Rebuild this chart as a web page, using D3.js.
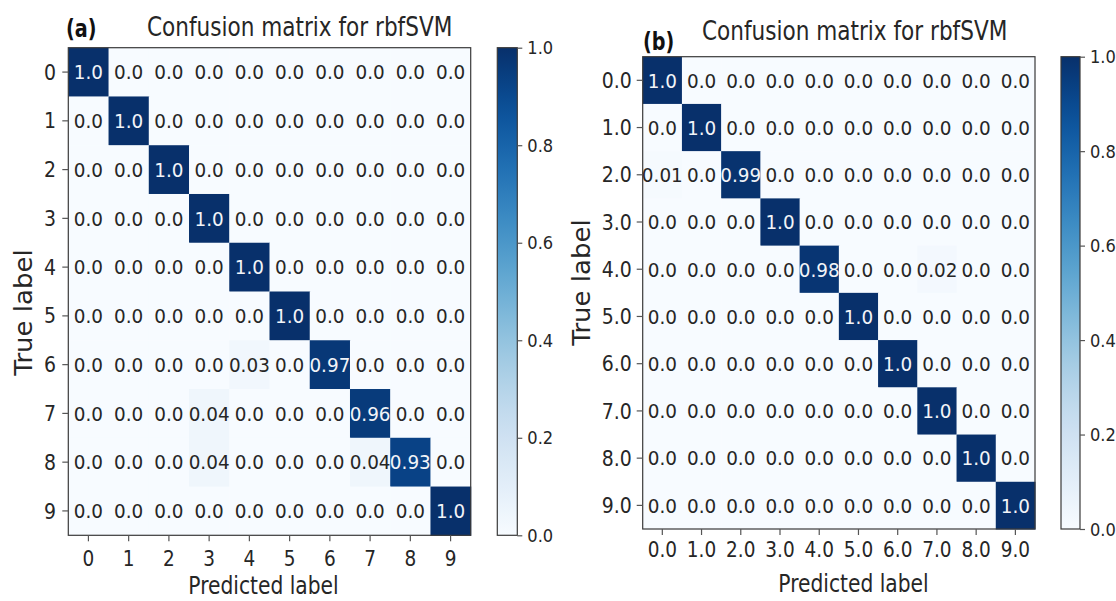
<!DOCTYPE html>
<html>
<head>
<meta charset="utf-8">
<script src="https://cdn.jsdelivr.net/npm/d3@7"></script>
<style>
  html, body { margin: 0; padding: 0; background: #ffffff; }
  svg { display: block; }
  text { font-family: "DejaVu Sans", sans-serif; }
</style>
</head>
<body>
<svg id="chart" width="1116" height="601"></svg>
<script>
// Class labels on both axes of each matrix
const classLabelsA = ["0", "1", "2", "3", "4", "5", "6", "7", "8", "9"];
const classLabelsB = ["0.0", "1.0", "2.0", "3.0", "4.0", "5.0", "6.0", "7.0", "8.0", "9.0"];

// Normalised confusion matrices (rows = true label, columns = predicted label)
const matrixA = [
  [1.0, 0.0, 0.0, 0.0, 0.0, 0.0, 0.0, 0.0, 0.0, 0.0],
  [0.0, 1.0, 0.0, 0.0, 0.0, 0.0, 0.0, 0.0, 0.0, 0.0],
  [0.0, 0.0, 1.0, 0.0, 0.0, 0.0, 0.0, 0.0, 0.0, 0.0],
  [0.0, 0.0, 0.0, 1.0, 0.0, 0.0, 0.0, 0.0, 0.0, 0.0],
  [0.0, 0.0, 0.0, 0.0, 1.0, 0.0, 0.0, 0.0, 0.0, 0.0],
  [0.0, 0.0, 0.0, 0.0, 0.0, 1.0, 0.0, 0.0, 0.0, 0.0],
  [0.0, 0.0, 0.0, 0.0, 0.03, 0.0, 0.97, 0.0, 0.0, 0.0],
  [0.0, 0.0, 0.0, 0.04, 0.0, 0.0, 0.0, 0.96, 0.0, 0.0],
  [0.0, 0.0, 0.0, 0.04, 0.0, 0.0, 0.0, 0.04, 0.93, 0.0],
  [0.0, 0.0, 0.0, 0.0, 0.0, 0.0, 0.0, 0.0, 0.0, 1.0]
];
const matrixB = [
  [1.0, 0.0, 0.0, 0.0, 0.0, 0.0, 0.0, 0.0, 0.0, 0.0],
  [0.0, 1.0, 0.0, 0.0, 0.0, 0.0, 0.0, 0.0, 0.0, 0.0],
  [0.01, 0.0, 0.99, 0.0, 0.0, 0.0, 0.0, 0.0, 0.0, 0.0],
  [0.0, 0.0, 0.0, 1.0, 0.0, 0.0, 0.0, 0.0, 0.0, 0.0],
  [0.0, 0.0, 0.0, 0.0, 0.98, 0.0, 0.0, 0.02, 0.0, 0.0],
  [0.0, 0.0, 0.0, 0.0, 0.0, 1.0, 0.0, 0.0, 0.0, 0.0],
  [0.0, 0.0, 0.0, 0.0, 0.0, 0.0, 1.0, 0.0, 0.0, 0.0],
  [0.0, 0.0, 0.0, 0.0, 0.0, 0.0, 0.0, 1.0, 0.0, 0.0],
  [0.0, 0.0, 0.0, 0.0, 0.0, 0.0, 0.0, 0.0, 1.0, 0.0],
  [0.0, 0.0, 0.0, 0.0, 0.0, 0.0, 0.0, 0.0, 0.0, 1.0]
];

// Colour bar ticks
const colorbarTicks = [0.0, 0.2, 0.4, 0.6, 0.8, 1.0];

const titleText = "Confusion matrix for rbfSVM";
const xLabelText = "Predicted label";
const yLabelText = "True label";

const svg = d3.select("#chart");
const color = d3.scaleSequential(d3.interpolateBlues).domain([0, 1]);
const fmtCell = v => Number.isInteger(v) ? v.toFixed(1) : String(v);
const INK = "#262626";

// Text helper: glyphs are drawn slightly narrow (horizontal scale sx)
function label(g, x, y, str, o) {
  const t = g.append("text")
    .attr("transform", `translate(${x},${y}) scale(${o.sx || 1},1)` + (o.rotate ? ` rotate(${o.rotate})` : ""))
    .attr("font-size", o.size)
    .attr("text-anchor", o.anchor || "start")
    .attr("fill", o.fill || INK)
    .text(str);
  if (o.weight) t.attr("font-weight", o.weight);
  return t;
}

// Shared colour-bar gradient
const defs = svg.append("defs");
const grad = defs.append("linearGradient")
  .attr("id", "blues").attr("x1", 0).attr("y1", 1).attr("x2", 0).attr("y2", 0);
d3.range(0, 1.0001, 0.05).forEach(t => {
  grad.append("stop").attr("offset", t).attr("stop-color", color(t));
});

function drawPanel(p) {
  const g = svg.append("g");
  const n = p.labels.length;
  const x = d3.scaleBand().domain(d3.range(n)).range([p.x0, p.x1]);
  const y = d3.scaleBand().domain(d3.range(n)).range([p.y0, p.y1]);

  // cells
  const cells = p.matrix.flatMap((row, i) => row.map((v, j) => ({ i, j, v })));
  g.selectAll("rect.cell").data(cells).enter().append("rect")
    .attr("class", "cell")
    .attr("x", d => x(d.j))
    .attr("y", d => y(d.i))
    .attr("width", x.bandwidth() + 0.5)
    .attr("height", y.bandwidth() + 0.5)
    .attr("fill", d => color(d.v));

  // frame
  g.append("rect")
    .attr("x", p.x0).attr("y", p.y0)
    .attr("width", p.x1 - p.x0).attr("height", p.y1 - p.y0)
    .attr("fill", "none").attr("stroke", "#3a3a3a").attr("stroke-width", 1.2);

  // cell values
  cells.forEach(d => {
    label(g, x(d.j) + x.bandwidth() / 2, y(d.i) + y.bandwidth() / 2 + 7.3, fmtCell(d.v), {
      size: 20, sx: 0.92, anchor: "middle",
      fill: d.v > 0.5 ? "#f2f4f8" : INK
    });
  });

  // axes (tick marks from d3 axes, labels drawn narrow)
  const yAxis = g.append("g").attr("transform", `translate(${p.x0},0)`)
    .call(d3.axisLeft(y).tickSize(6).tickFormat(""));
  const xAxis = g.append("g").attr("transform", `translate(0,${p.y1})`)
    .call(d3.axisBottom(x).tickSize(6).tickFormat(""));
  [yAxis, xAxis].forEach(a => {
    a.select(".domain").remove();
    a.selectAll("line").attr("stroke", "#555").attr("stroke-width", 1.2);
  });
  p.labels.forEach((s, i) => {
    label(g, p.yTickRight, y(i) + y.bandwidth() / 2 + 7.6, s, { size: 21, sx: 0.9, anchor: "end" });
    label(g, x(i) + x.bandwidth() / 2, p.xTickBase, s, { size: 21, sx: 0.88, anchor: "middle" });
  });

  // colour bar
  const cb = d3.scaleLinear().domain([0, 1]).range([p.y1, p.y0]);
  g.append("rect")
    .attr("x", p.cbx0).attr("y", p.y0)
    .attr("width", p.cbx1 - p.cbx0).attr("height", p.y1 - p.y0)
    .attr("fill", "url(#blues)").attr("stroke", "#3a3a3a").attr("stroke-width", 1.2);
  const cbAxis = g.append("g").attr("transform", `translate(${p.cbx1},0)`)
    .call(d3.axisRight(cb).tickValues(colorbarTicks).tickSize(5).tickFormat(""));
  cbAxis.select(".domain").remove();
  cbAxis.selectAll("line").attr("stroke", "#555").attr("stroke-width", 1.2);
  colorbarTicks.forEach(t => {
    label(g, p.cbx1 + 10, cb(t) + 6.7, t.toFixed(1), { size: 18.5, sx: 0.88 });
  });

  // titles and axis labels
  label(g, p.titleX, p.titleBase, titleText, { size: 27, sx: 0.8 });
  label(g, p.tagX, p.tagBase, p.tag, { size: 24, sx: 0.8, weight: "bold", fill: "#111" });
  label(g, p.xLabelX, p.xLabelBase, xLabelText, { size: 25, sx: 0.81, anchor: "middle" });
  label(g, p.yLabelBase, p.yLabelY, yLabelText, { size: 26, sx: 0.92, anchor: "middle", rotate: -90 });
}

drawPanel({
  labels: classLabelsA, matrix: matrixA, tag: "(a)",
  x0: 68.3, x1: 470.7, y0: 47.7, y1: 535.3,
  cbx0: 497.3, cbx1: 517.3,
  yTickRight: 56, xTickBase: 566,
  titleX: 147, titleBase: 35.5,
  tagX: 66, tagBase: 37,
  xLabelX: 263.5, xLabelBase: 594,
  yLabelBase: 32, yLabelY: 312.5
});

drawPanel({
  labels: classLabelsB, matrix: matrixB, tag: "(b)",
  x0: 642.7, x1: 1035, y0: 56.7, y1: 529,
  cbx0: 1061, cbx1: 1080,
  yTickRight: 631.7, xTickBase: 557.3,
  titleX: 702, titleBase: 39.5,
  tagX: 643, tagBase: 50,
  xLabelX: 853.5, xLabelBase: 592,
  yLabelBase: 590, yLabelY: 282.5
});
</script>
</body>
</html>
